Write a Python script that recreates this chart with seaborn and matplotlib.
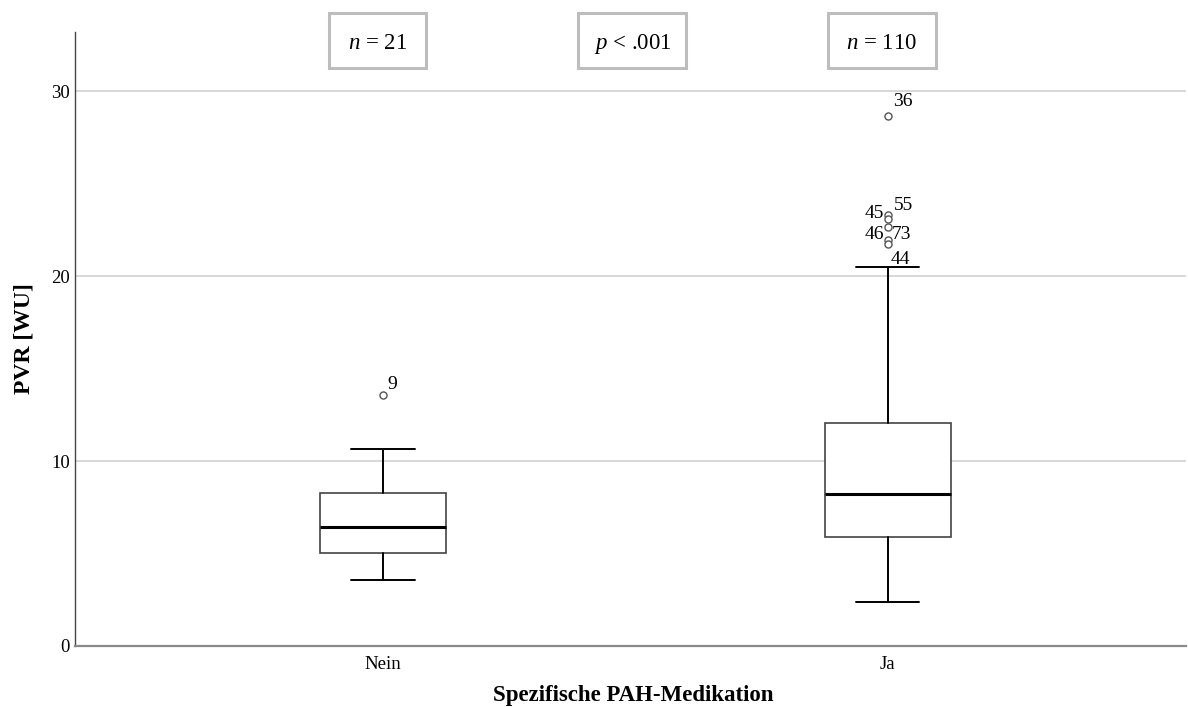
import numpy as np
import pandas as pd
import matplotlib.pyplot as plt
import seaborn as sns
from matplotlib import transforms
from matplotlib.patches import Rectangle

# Summary statistics
groups = ['Nein', 'Ja']
group_n = [21, 110]
p_label = '< .001'
medians = [6.45, 8.23]
q1 = [5.04, 5.89]
q3 = [8.28, 12.07]
whisker_low = [3.57, 2.40]
whisker_high = [10.67, 20.47]

# Outliers (case numbers as labelled in the chart)
outlier_group = ['Nein', 'Ja', 'Ja', 'Ja', 'Ja', 'Ja', 'Ja']
outlier_value = [13.59, 28.64, 23.30, 23.10, 22.65, 21.95, 21.75]
outlier_case = ['9', '36', '55', '45', '46', '73', '44']

y_ticks = [0, 10, 20, 30]

sns.set_style('white')
plt.rcParams['font.family'] = ['Liberation Serif', 'DejaVu Serif']
plt.rcParams['mathtext.fontset'] = 'custom'
plt.rcParams['mathtext.rm'] = 'Liberation Serif'
plt.rcParams['mathtext.it'] = 'Liberation Serif:italic'
plt.rcParams['text.color'] = 'black'
plt.rcParams['axes.labelcolor'] = 'black'
plt.rcParams['xtick.color'] = 'black'
plt.rcParams['ytick.color'] = 'black'

fig = plt.figure(figsize=(11.88, 7.07), dpi=100)
ax = fig.add_axes([0.0631, 0.0863, 0.935, 0.8684])

stats = []
for i, g in enumerate(groups):
    stats.append({
        'label': g, 'med': medians[i], 'q1': q1[i], 'q3': q3[i],
        'whislo': whisker_low[i], 'whishi': whisker_high[i], 'fliers': [],
    })

ax.bxp(stats, positions=range(len(groups)), widths=0.25, capwidths=0.125,
       showfliers=False, patch_artist=True,
       boxprops=dict(facecolor='white', edgecolor='#444444', linewidth=1.2),
       medianprops=dict(color='black', linewidth=2.2),
       whiskerprops=dict(color='black', linewidth=1.4),
       capprops=dict(color='black', linewidth=1.4))

# outliers
out_df = pd.DataFrame({
    'pos': [groups.index(g) for g in outlier_group],
    'value': outlier_value,
    'case': outlier_case,
})
sns.scatterplot(data=out_df, x='pos', y='value', ax=ax, marker='o', s=26,
                facecolor='white', edgecolor='#555555', linewidth=1.0,
                zorder=5, legend=False)

# label offsets in points (layout only)
label_offsets = {'9': (7, 7), '36': (11, 11), '55': (11, 7), '45': (-10, 4),
                 '46': (-10, -5), '73': (10, 4), '44': (9, -11)}
for _, row in out_df.iterrows():
    dx, dy = label_offsets[row['case']]
    ax.annotate(row['case'], xy=(row['pos'], row['value']), xytext=(dx, dy),
                textcoords='offset points', ha='center', va='center',
                fontsize=14, color='black')

ax.set_xlim(-0.61, 1.59)
ax.set_ylim(0, 33.2)
ax.set_xticks(range(len(groups)))
ax.set_xticklabels(groups, fontsize=13.5)
ax.set_yticks(y_ticks)
ax.set_yticklabels([str(t) for t in y_ticks], fontsize=13.5)
ax.tick_params(axis='both', length=0)
ax.tick_params(axis='x', pad=7)
ax.tick_params(axis='y', pad=3.5)

ax.yaxis.grid(True, color='#d6d6d6', linewidth=1.3)
ax.set_axisbelow(True)
for side in ['top', 'right']:
    ax.spines[side].set_visible(False)
ax.spines['left'].set_color('#444444')
ax.spines['left'].set_linewidth(1.0)
ax.spines['bottom'].set_color('#8a8a8a')
ax.spines['bottom'].set_linewidth(1.6)

ax.set_xlabel('Spezifische PAH-Medikation', fontsize=16.5, fontweight='bold')
ax.set_ylabel('PVR [WU]', fontsize=17, fontweight='bold')
ax.xaxis.set_label_coords(0.503, -0.064)
ax.yaxis.set_label_coords(-0.036, 0.5)

# annotation boxes above the plot (x in data units, y in axes fraction)
trans = transforms.blended_transform_factory(ax.transData, ax.transAxes)
box_texts = [r'$\it{n}$ = ' + str(group_n[0]), r'$\it{p}$ ' + p_label,
             r'$\it{n}$ = ' + str(group_n[1])]
box_left = [-0.107, 0.387, 0.881]
box_width = [0.192, 0.214, 0.214]
for left, width, txt in zip(box_left, box_width, box_texts):
    ax.add_patch(Rectangle((left, 0.941), width, 0.0896, transform=trans,
                           facecolor='white', edgecolor='#bdbdbd',
                           linewidth=2.2, clip_on=False, zorder=6))
    ax.text(left + width / 2, 0.973, txt, transform=trans, ha='center',
            va='baseline', fontsize=16.5, zorder=7)

fig.savefig('out.png', dpi=100)
